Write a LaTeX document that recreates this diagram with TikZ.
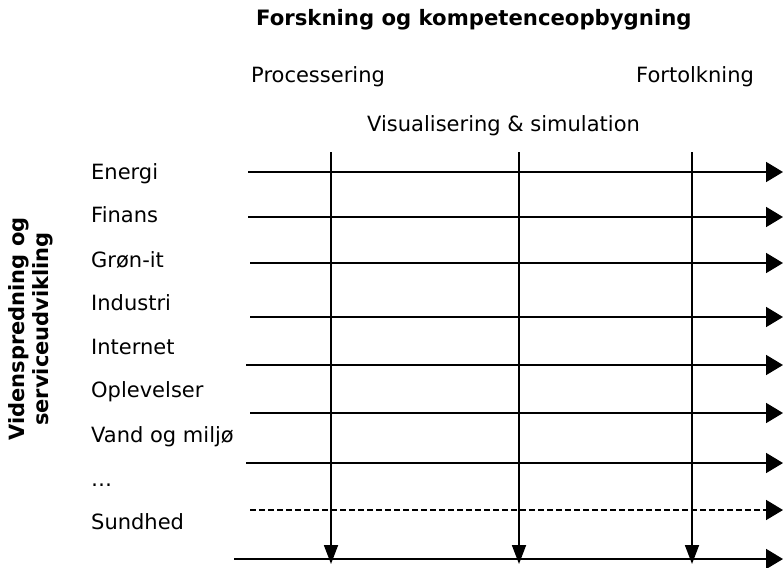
\documentclass[tikz,border=0pt]{standalone}
\usepackage{fontspec}
\setmainfont{DejaVu Sans}
\usetikzlibrary{arrows.meta}
\begin{document}
\begin{tikzpicture}[x=1pt,y=-1pt,
  lbl/.style={anchor=base west,inner sep=0pt,font=\fontsize{21}{25}\selectfont},
  hdr/.style={anchor=base west,inner sep=0pt,font=\fontsize{21}{25}\selectfont},
  ttl/.style={anchor=base west,inner sep=0pt,font=\fontsize{21.2}{25}\selectfont\bfseries},
  harrow/.style={line width=1.8pt,-{Triangle[length=17pt,width=20pt]}},
  varrow/.style={line width=1.8pt,-{Triangle[length=19pt,width=14pt]}},
]
\useasboundingbox (0,0) rectangle (783,567);
% headers
\node[ttl] (title) at (256,26) {Forskning og kompetenceopbygning};
\node[hdr] (proc) at (251,83) {Processering};
\node[hdr] (fort) at (636,83) {Fortolkning};
\node[hdr] (vis) at (367,131) {Visualisering \& simulation};
% side title
\node[rotate=90,align=center,inner sep=0pt,font=\fontsize{21}{24}\selectfont\bfseries] (side) at (31,329) {Videnspredning og\\serviceudvikling};
% row labels
\node[lbl] (l1) at (91,179) {Energi};
\node[lbl] (l2) at (91,222) {Finans};
\node[lbl] (l3) at (91,267) {Grøn-it};
\node[lbl] (l4) at (91,310) {Industri};
\node[lbl] (l5) at (91,354) {Internet};
\node[lbl] (l6) at (91,397) {Oplevelser};
\node[lbl] (l7) at (91,442) {Vand og miljø};
\node[lbl] (l8) at (91,486) {…};
\node[lbl] (l9) at (91,529) {Sundhed};
% horizontal arrow endpoints
\coordinate (h1s) at (248,172); \coordinate (h1e) at (783,172);
\coordinate (h2s) at (248,217); \coordinate (h2e) at (783,217);
\coordinate (h3s) at (250,263); \coordinate (h3e) at (783,263);
\coordinate (h4s) at (250,317); \coordinate (h4e) at (783,317);
\coordinate (h5s) at (246,365); \coordinate (h5e) at (783,365);
\coordinate (h6s) at (250,413); \coordinate (h6e) at (783,413);
\coordinate (h7s) at (246,463); \coordinate (h7e) at (783,463);
\coordinate (h8s) at (250,510); \coordinate (h8e) at (783,510);
\coordinate (h9s) at (234,559); \coordinate (h9e) at (783,559);
\foreach \i in {1,...,7,9} \draw[harrow] (h\i s) -- (h\i e);
\draw[harrow,dash pattern=on 6pt off 3pt] (h8s) -- (h8e);
% vertical arrows
\coordinate (v1s) at (331,152); \coordinate (v1e) at (331,564);
\coordinate (v2s) at (519,152); \coordinate (v2e) at (519,564);
\coordinate (v3s) at (692,152); \coordinate (v3e) at (692,564);
\foreach \i in {1,2,3} \draw[varrow] (v\i s) -- (v\i e);
\end{tikzpicture}
\end{document}
